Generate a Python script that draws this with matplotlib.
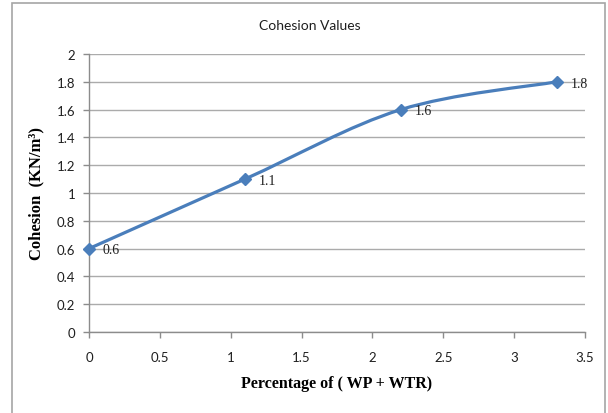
import numpy as np
import matplotlib
matplotlib.use("Agg")
import matplotlib.pyplot as plt
from matplotlib.path import Path
from matplotlib.patches import PathPatch, Rectangle

# data
pct = [0, 1.1, 2.2, 3.3]
cohesion = [0.6, 1.1, 1.6, 1.8]
labels = ["0.6", "1.1", "1.6", "1.8"]
xticks = [0, 0.5, 1, 1.5, 2, 2.5, 3, 3.5]
yticks = [0, 0.2, 0.4, 0.6, 0.8, 1, 1.2, 1.4, 1.6, 1.8, 2]

blue = "#4A7EBB"
grey = "#8C8C8C"
tick_font = ["Lato", "DejaVu Sans"]


def smooth_path(xs, ys, t=1/6):
    # excel-like smoothed line: cubic bezier with catmull-rom handles
    pts = np.column_stack([xs, ys]).astype(float)
    verts = [pts[0]]
    codes = [Path.MOVETO]
    n = len(pts)
    for i in range(n - 1):
        p0 = pts[max(i - 1, 0)]
        p1 = pts[i]
        p2 = pts[i + 1]
        p3 = pts[min(i + 2, n - 1)]
        c1 = p1 + (p2 - p0) * t
        c2 = p2 - (p3 - p1) * t
        verts += [c1, c2, p2]
        codes += [Path.CURVE4] * 3
    return Path(verts, codes)


fig = plt.figure(figsize=(6.08, 4.14), dpi=100)
ax = fig.add_axes([89/608, 1 - 333/414, (585 - 89)/608, (333 - 55)/414])

fig.patches.append(Rectangle((12/608, -0.05), (605 - 12)/608, 1.05 - 4/414,
                             transform=fig.transFigure, fill=False,
                             edgecolor="#A6A6A6", linewidth=1.2))

ax.set_xlim(0, 3.5)
ax.set_ylim(0, 2)
ax.set_xticks(xticks)
ax.set_yticks(yticks)
ax.set_xticklabels([f"{v:g}" for v in xticks], family=tick_font, fontsize=9.5)
ax.set_yticklabels([f"{v:g}" for v in yticks], family=tick_font, fontsize=9.5)
ax.yaxis.grid(True, color="#ABABAB", linewidth=1.0)
ax.set_axisbelow(True)
for s in ["top", "right"]:
    ax.spines[s].set_visible(False)
for s in ["left", "bottom"]:
    ax.spines[s].set_color(grey)
    ax.spines[s].set_linewidth(1.0)
ax.tick_params(axis="both", colors=grey, length=4, width=1.0, labelcolor="#1F1F1F")
ax.tick_params(axis="x", pad=10)
ax.tick_params(axis="y", pad=6)

ax.add_patch(PathPatch(smooth_path(pct, cohesion), fill=False,
                       edgecolor=blue, linewidth=2.3, clip_on=False, zorder=3))
ax.plot(pct, cohesion, linestyle="none", marker="D", markersize=6,
        color=blue, clip_on=False, zorder=4)

for x, y, lab in zip(pct, cohesion, labels):
    ax.annotate(lab, (x, y), xytext=(10, -1), textcoords="offset points",
                va="center", ha="left", family="Liberation Serif",
                fontsize=10, color="#1F1F1F")

fig.text(310/608, 1 - 26/414, "Cohesion Values",
         family=tick_font, fontsize=10, ha="center", va="center", color="#1F1F1F")
ax.set_xlabel("Percentage of ( WP + WTR)", family="Liberation Serif",
              fontweight="bold", fontsize=11.5, labelpad=8)
ax.set_ylabel("Cohesion  (KN/m³)", family="Liberation Serif",
              fontweight="bold", fontsize=12, labelpad=9)

fig.savefig("out.png", dpi=100)
